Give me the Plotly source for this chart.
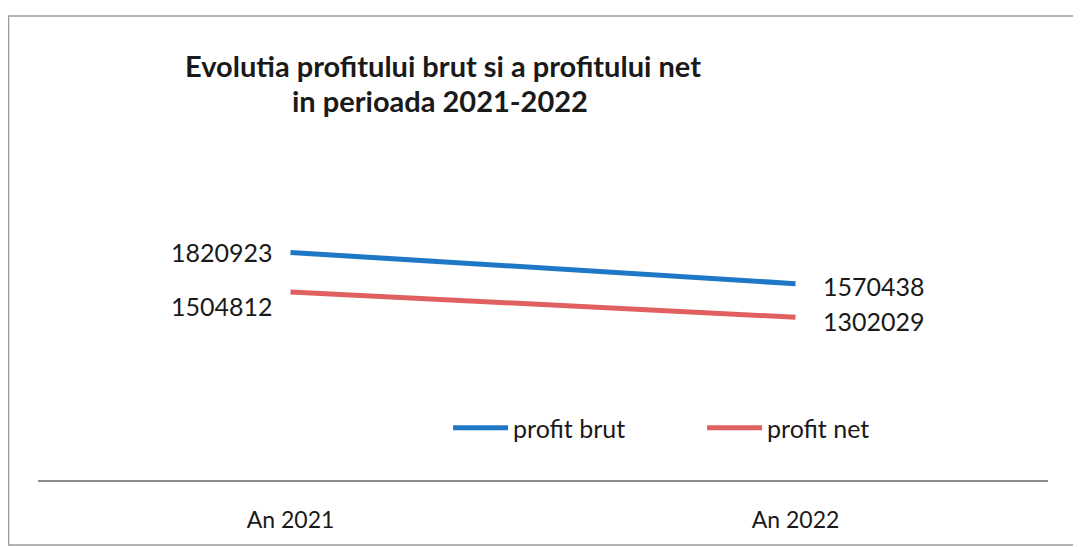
import plotly.graph_objects as go

categories = ["An 2021", "An 2022"]
profit_brut = [1820923, 1570438]
profit_net = [1504812, 1302029]
series_names = ["profit brut", "profit net"]
title_lines = ["Evolutia profitului brut si a profitului net", "in perioada 2021-2022"]

FONT = "Lato"
TXT = "#1a1a1a"
LBL = 25

fig = go.Figure()
fig.add_trace(go.Scatter(
    x=categories, y=profit_brut, name=series_names[0], mode="lines",
    line=dict(color="#1f78c6", width=5),
))
fig.add_trace(go.Scatter(
    x=categories, y=profit_net, name=series_names[1], mode="lines",
    line=dict(color="#e0605f", width=5),
))

annotations = []
# data labels: first point to the left, last point to the right
for vals, yshifts in ((profit_brut, (0, -2)), (profit_net, (-14, -4))):
    annotations.append(dict(
        x=categories[0], y=vals[0], xref="x", yref="y", text=str(vals[0]),
        showarrow=False, xanchor="right", yanchor="middle",
        xshift=-16, yshift=yshifts[0],
        font=dict(family=FONT, size=LBL, color=TXT),
    ))
    annotations.append(dict(
        x=categories[1], y=vals[1], xref="x", yref="y", text=str(vals[1]),
        showarrow=False, xanchor="left", yanchor="middle",
        xshift=25, yshift=yshifts[1],
        font=dict(family=FONT, size=LBL, color=TXT),
    ))
# title lines
for txt, xp, yp in ((title_lines[0], 0.401, 1.66), (title_lines[1], 0.398, 1.52)):
    annotations.append(dict(
        x=xp, y=yp, xref="paper", yref="paper", text="<b>" + txt + "</b>",
        showarrow=False, xanchor="center", yanchor="middle",
        font=dict(family=FONT, size=29, color=TXT),
    ))

fig.update_layout(
    width=1081, height=547,
    margin=dict(l=30, r=41, t=222, b=75),
    paper_bgcolor="white", plot_bgcolor="white",
    showlegend=True,
    legend=dict(
        orientation="h", x=0.406, xanchor="left", y=0.208, yanchor="middle",
        xref="paper", yref="paper",
        font=dict(family=FONT, size=25, color=TXT),
        entrywidth=184, itemwidth=55,
        bgcolor="rgba(0,0,0,0)",
    ),
    xaxis=dict(
        range=[-0.5, 1.5], showgrid=False, zeroline=False,
        showline=True, linecolor="#8c8c8c", linewidth=2,
        ticks="", ticklabelstandoff=18,
        tickfont=dict(family=FONT, size=23, color=TXT),
    ),
    yaxis=dict(
        range=[0, 2000000], showgrid=False, zeroline=False,
        showline=False, showticklabels=False, ticks="",
    ),
    annotations=annotations,
    shapes=[dict(
        type="rect", xref="paper", yref="paper",
        x0=-0.0292, x1=1.2, y0=-0.26, y1=1.856,
        line=dict(color="#9a9a9a", width=1.5),
    )],
)

fig.write_html("out.html")
